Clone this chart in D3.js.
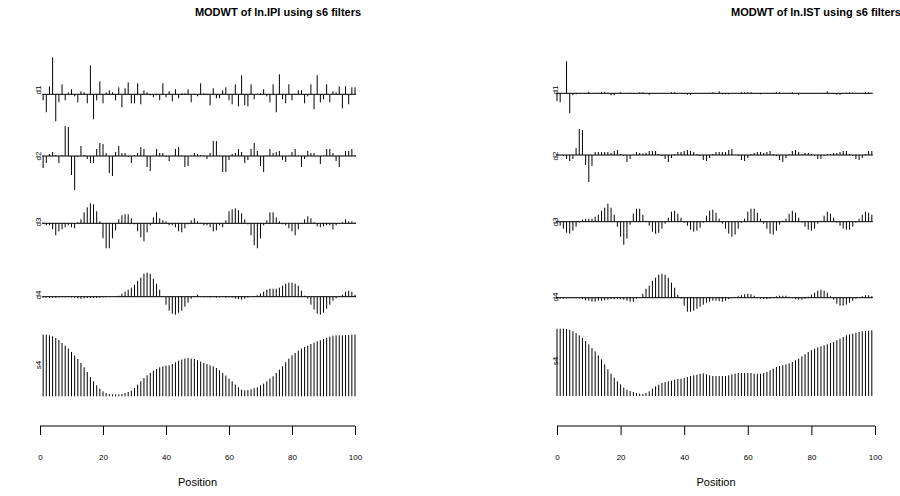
<!DOCTYPE html>
<html>
<head>
<meta charset="utf-8">
<script src="https://cdn.jsdelivr.net/npm/d3@7/dist/d3.min.js"></script>
<style>
  body { margin: 0; background: #fff; }
  svg { display: block; }
  text { font-family: "Liberation Sans", Arial, sans-serif; fill: #000; }
</style>
</head>
<body>
<svg id="chart" width="900" height="496"></svg>
<script>

// ---- data ----
var rowNames = [ 'd1', 'd2', 'd3', 'd4', 's4' ];
var xTicks = [ 0, 20, 40, 60, 80, 100 ];
var titles = [ 'MODWT of ln.IPI using s6 filters', 'MODWT of ln.IST using s6 filters' ];

var ipiD1 = [ -6,-18,8,37,-27,-8,10,-6,2,5, -2,-8,3,2,-9,29,-25,-6,13,-9,
	2,4,2,-6,7,-13,6,12,-9,-9, 11,-10,4,2,-1,-3,-1,-6,11,-3,
	3,-7,5,-4,1,1,5,-8,0.5,-2, 11,1,0.5,-11,6,-4,-4,4,7,-6,
	-10,10,-12,19,-11,-12,10,-5,0.5,1, 5,-2,-8,10,-18,20,-5,-9,10,-6,
	0.5,4,4,-9,-2,10,-15,19,-8,-5, 10,-8,3,2,8,-14,8,-10,7,7 ];
var ipiD2 = [ -12,-7,2,4,1,-7,1,30,29,-19, -34,-1,10,1,-3,-7,-7,7,13,12,
	3,-17,-20,4,10,3,3,-1,-7,1, 3,9,7,-11,-15,0.5,7,3,3,-1,
	-5,0.5,7,9,0.5,-11,-10,0.5,3,2, 1,0.5,-3,3,15,15,0.5,-16,-16,-4,
	2,3,7,4,-7,-4,7,13,5,-10, -16,0.5,7,3,4,5,-4,-6,0.5,4,
	7,0.5,-11,-3,5,3,3,0.5,-8,0.5, 7,7,3,-5,-11,0.5,5,5,7,1 ];
var ipiD3 = [ 0.7,-2,-2,-6,-12,-8,-6,-4,-2,-4, -5,1,4,11,16,20,19,12,2,-15,
	-25,-25,-15,-7,4,8,9,9,5,-1, -8,-14,-18,-9,-2,6,11,5,3,2,
	-2,-2,-4,-8,-9,-5,-1,3,5,2, 0.5,-2,-2,-4,-8,-7,-2,-4,3,12,
	14,15,13,10,4,-1,-12,-22,-25,-15, -2,3,11,11,6,2,-1,-2,-5,-8,
	-12,-6,-0.5,4,7,5,1,-3,-4,-3, -2,-2,-6,-2,-0.5,1,4,2,2,1 ];
var ipiD4 = [ -1,-1,-1.3,-1,-1,-0.7,-0.5,-0.7,-0.5,-0.7, -1,-1.5,-2,-1.7,-1.3,-1.3,-1.3,-1.3,-1,-0.7,
	-0.5,-0.3,-0.2,0.3,1,3,5,7,9,12, 16,19,23,24,23,18,13,7,0.5,-8,
	-14,-17,-18,-16,-14,-10,-6,-2,0.7,2, 0.5,-0.5,-0.5,-0.7,-0.5,-1,-0.7,-0.5,-1,-0.7,
	-1,-2,-2.5,-3,-2,-1,-0.3,0.5,1.5,3, 5,7,8,8,8,9,11,13,14,14,
	13,11,6,1,-2,-8,-13,-17,-18,-16, -12,-8,-4,-1.5,0.3,2,5,6,5,2 ];
var ipiS4 = [ 61.7,61.7,61,60,58.3,56.3,53.3,50.7,47.7,44.3, 40.7,37.3,33.3,29,24.3,19.3,15,11,7.7,5,
	3.3,2.3,2,2,2,2.3,3.3,4.3,5.7,8.3, 11.7,15,18.3,21,23.3,25.7,27.3,29,30,30.7,
	31,32.3,34,35.7,36.7,37.7,38.3,37.7,37.3,36, 34.7,33.3,32.3,31,30,28.3,26,23.3,20.7,17.7,
	15,11.7,9,6.7,6,6.3,7,8,9,11, 12.7,15,17.7,20,23.3,26.7,30,34,37.7,41,
	43.3,45.7,47.7,49.3,50.7,52.3,53.7,55,56,57.3, 58.3,59.7,60.7,61,61,61,61.3,61.3,61.7,61.7 ];

var istD1 = [ -8,-9,0,32,-20,-2,-1,-0.5,0.3,-0.3, 1.5,0.3,-0.3,0.5,1.5,1.5,0.5,-2,-2,0.3,
	1,0.3,-0.3,0.5,-0.3,0.3,1,1,-0.3,-1.5, -0.3,0.3,0.3,-0.3,0.3,0.3,1,1,0.3,-0.3,
	0.3,-1.5,-1.5,0.3,-0.3,0.3,-0.3,0.3,0.5,1, 0.3,2,-1,-1,-1,0.3,-0.3,0.3,1,1,
	1,1,-0.3,-0.5,-1,0.3,-0.3,0.3,0.5,1, 1,0.3,-0.3,0.3,1,0.3,-1.5,-0.5,0.3,-0.3,
	0.3,-0.3,0.3,-0.3,0.3,2,0.3,-0.3,-1.5,-1.5, 0.3,0.5,1,0.5,-0.3,0.3,-0.3,1.5,1,0.3 ];
var istD2 = [ -0.3,-0.3,-1,-4,-6,-4,7,26,25,-10, -27,-11,3,3,3,3,3,2,4,5,
	1,-1,-7,-4,0.3,3,2,1.5,2,4, 4,4,1,-1,-4,-7,-3,1,3,3,
	4,5,4,3,1,-1,-5,-6,-3,1, 3,3,3,3,5,6,0.3,-1,-5,-6,
	-3,1,2,3,3,2,3,4,1,-1, -5,-7,-3,1,4,5,3,1,2,2,
	1,-1,-4,-4,-1,1,1,2,2,3, 4,4,1,-1,-4,-5,-3,1,4,4 ];
var istD3 = [ -1,-4,-7,-11,-12,-9,-5,-1,2,3, 3,3,5,7,11,14,18,14,7,-5,
	-15,-23,-17,-3,8,13,13,7,1,-4, -10,-12,-11,-7,-2,4,10,11,8,4,
	-1,-4,-8,-10,-9,-6,-1,6,11,12, 9,3,-2,-7,-12,-15,-13,-7,-1,3,
	10,13,13,9,3,-2,-7,-12,-13,-9, -3,1,3,8,11,9,4,-1,-5,-8,
	-9,-7,-2,1,6,10,8,4,-1,-4, -7,-8,-8,-5,-1,3,7,10,9,7 ];
var istD4 = [ -1,-1,-1,-0.7,-0.5,-0.5,-0.7,-0.7,-1.5,-2.5, -3,-4,-4,-3,-3,-2.5,-2,-1.5,-1.5,-1.5,
	-1.5,-2,-3,-4,-4,-1,0.3,4,9,12, 17,20,23,24,23,20,15,10,3,-1,
	-8,-14,-14,-13,-11,-9,-7,-5,-4,-3, -3,-3.5,-4,-3,-1.5,-0.5,0.5,1.5,2.5,3.5,
	4,3.5,2,0.3,-1,-1.5,-1.5,-1,0.5,1.5, 2,2,2,1,-0.5,-1.5,-2,-2,-1,1,
	3,5,7,8,7,5,1.5,-2,-6,-8, -8,-7,-5,-3,-1,0.3,1.5,2.5,2.5,1.5 ];
var istS4 = [ 67.3,67.3,67.3,67,66,64.7,63,60.7,58,55, 51.7,48,44.7,40.7,36.7,31.7,26.7,22.3,18.3,14.7,
	11.7,8.3,6.3,5,4,3,2.3,2,3,4.7, 7.3,9.7,11.3,13,14,14.7,15.3,16.3,17,17.3,
	18,19,20,20.7,21.3,22.3,22.7,21.7,20.7,20, 20,20,20,20,20.7,21.7,22.3,23,23,23,
	23,23,22.3,22.3,22.3,23,24,25.7,27.3,29, 30,30.7,31.7,32.7,34,35.7,37.3,39.7,41.7,44,
	46,47.3,48.7,49.7,50.7,51.7,53,54,55.7,57.3, 59,60.7,61.7,62.3,63.3,64,64.7,65,65.3,65.7 ];


// ---- layout ----
var panels = [
	{
		title: titles[ 0 ], titleX: 278,
		series: [ ipiD1, ipiD2, ipiD3, ipiD4, ipiS4 ],
		firstPos: 1,
		x0: 40, x1: 355,
		base: [ 94.3, 156, 223.3, 296.7, 396.3 ],
		labelY: [ 90, 156, 222, 295, 365 ],
		labelX: 41
	},
	{
		title: titles[ 1 ], titleX: 816,
		series: [ istD1, istD2, istD3, istD4, istS4 ],
		firstPos: 0,
		x0: 557, x1: 875,
		base: [ 93.3, 155, 221.7, 297.7, 396 ],
		labelY: [ 90, 156, 222, 297, 361 ],
		labelX: 558
	}
];

var svg = d3.select( '#chart' );
var axisY = 426;


panels.forEach( function( p ) {

	var x = d3.scaleLinear().domain( [ 0, 100 ] ).range( [ p.x0, p.x1 ] );
	var g = svg.append( 'g' );

	g.append( 'text' )
		.attr( 'x', p.titleX )
		.attr( 'y', 16 )
		.attr( 'text-anchor', 'middle' )
		.style( 'font-size', '11px' )
		.style( 'font-weight', 'bold' )
		.text( p.title );

	p.series.forEach( function( values, r ) {
		var base = p.base[ r ],
			isSmooth = rowNames[ r ] === 's4',
			y = d3.scaleLinear().domain( [ 0, 1 ] ).range( [ base, base - 1 ] ),
			pos = function( i ) { return x( p.firstPos + i ); };

		// zero line under the detail rows
		if ( !isSmooth ) {
			g.append( 'line' )
				.attr( 'x1', pos( 0 ) - 1 )
				.attr( 'x2', pos( values.length - 1 ) + 1 )
				.attr( 'y1', y( 0 ) )
				.attr( 'y2', y( 0 ) )
				.attr( 'stroke', '#000' )
				.attr( 'stroke-width', 1 );
		}

		g.selectAll( 'line.bar-' + r )
			.data( values )
			.enter()
			.append( 'line' )
				.attr( 'class', 'bar-' + r )
				.attr( 'x1', function( d, i ) { return pos( i ); } )
				.attr( 'x2', function( d, i ) { return pos( i ); } )
				.attr( 'y1', y( 0 ) )
				.attr( 'y2', function( d ) { return y( d ); } )
				.attr( 'stroke', '#000' )
				.attr( 'stroke-width', 1 );

		g.append( 'text' )
			.attr( 'transform', 'translate(' + p.labelX + ',' + p.labelY[ r ] + ') rotate(-90)' )
			.attr( 'text-anchor', 'middle' )
			.style( 'font-size', '8px' )
			.text( rowNames[ r ] );
	} );

	var axis = d3.axisBottom( x )
		.tickValues( xTicks )
		.tickSize( 9 )
		.tickPadding( 19 );

	var ax = g.append( 'g' )
		.attr( 'transform', 'translate(0,' + axisY + ')' )
		.call( axis );
	ax.select( '.domain' ).attr( 'd', 'M' + x( 0 ) + ',0H' + x( 100 ) );
	ax.selectAll( 'text' )
		.style( 'font-size', '8px' )
		.style( 'font-family', '"Liberation Sans", Arial, sans-serif' );

	g.append( 'text' )
		.attr( 'x', ( p.x0 + p.x1 ) / 2 )
		.attr( 'y', 486 )
		.attr( 'text-anchor', 'middle' )
		.style( 'font-size', '11px' )
		.text( 'Position' );

} );

</script>
</body>
</html>
